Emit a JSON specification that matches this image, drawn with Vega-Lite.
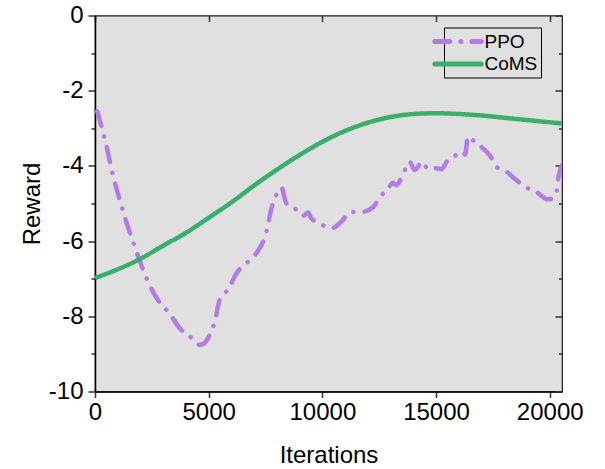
{
  "$schema": "https://vega.github.io/schema/vega-lite/v6.json",
  "width": 467,
  "height": 376,
  "autosize": {"type": "none"},
  "padding": {"left": 95, "top": 15.5, "right": 43, "bottom": 77.5},
  "background": "white",
  "config": {
    "view": {"fill": "#e0e0e0", "stroke": "#1a1a1a", "strokeWidth": 1.2},
    "font": "Liberation Sans",
    "axis": {
      "labelFont": "Liberation Sans",
      "titleFont": "Liberation Sans",
      "labelFontSize": 24,
      "titleFontSize": 24,
      "titleFontWeight": "normal",
      "labelColor": "black",
      "titleColor": "black",
      "domainColor": "black",
      "domainWidth": 1.5,
      "tickColor": "#333",
      "tickWidth": 1.5,
      "labelFlush": false,
      "grid": false
    },
    "legend": {
      "labelFont": "Liberation Sans",
      "labelFontSize": 19,
      "labelColor": "black"
    }
  },
  "data": {
    "values": [
      {"iter": 100, "reward": -2.55, "series": "PPO"},
      {"iter": 430, "reward": -3.29, "series": "PPO"},
      {"iter": 790, "reward": -4.24, "series": "PPO"},
      {"iter": 1230, "reward": -5.2, "series": "PPO"},
      {"iter": 1750, "reward": -6.15, "series": "PPO"},
      {"iter": 2330, "reward": -7.08, "series": "PPO"},
      {"iter": 2850, "reward": -7.64, "series": "PPO"},
      {"iter": 3250, "reward": -7.9, "series": "PPO"},
      {"iter": 3730, "reward": -8.32, "series": "PPO"},
      {"iter": 4240, "reward": -8.57, "series": "PPO"},
      {"iter": 4600, "reward": -8.76, "series": "PPO"},
      {"iter": 4800, "reward": -8.72, "series": "PPO"},
      {"iter": 5040, "reward": -8.5, "series": "PPO"},
      {"iter": 5260, "reward": -8.16, "series": "PPO"},
      {"iter": 5480, "reward": -7.57, "series": "PPO"},
      {"iter": 5890, "reward": -7.26, "series": "PPO"},
      {"iter": 6220, "reward": -6.86, "series": "PPO"},
      {"iter": 6730, "reward": -6.55, "series": "PPO"},
      {"iter": 7100, "reward": -6.32, "series": "PPO"},
      {"iter": 7540, "reward": -5.75, "series": "PPO"},
      {"iter": 7760, "reward": -5.13, "series": "PPO"},
      {"iter": 7950, "reward": -4.8, "series": "PPO"},
      {"iter": 8200, "reward": -4.58, "series": "PPO"},
      {"iter": 8420, "reward": -5.0, "series": "PPO"},
      {"iter": 8780, "reward": -5.13, "series": "PPO"},
      {"iter": 9150, "reward": -5.33, "series": "PPO"},
      {"iter": 9370, "reward": -5.24, "series": "PPO"},
      {"iter": 9510, "reward": -5.39, "series": "PPO"},
      {"iter": 9880, "reward": -5.53, "series": "PPO"},
      {"iter": 10400, "reward": -5.66, "series": "PPO"},
      {"iter": 10840, "reward": -5.48, "series": "PPO"},
      {"iter": 11230, "reward": -5.23, "series": "PPO"},
      {"iter": 11790, "reward": -5.22, "series": "PPO"},
      {"iter": 12230, "reward": -5.1, "series": "PPO"},
      {"iter": 12520, "reward": -4.84, "series": "PPO"},
      {"iter": 12890, "reward": -4.6, "series": "PPO"},
      {"iter": 13110, "reward": -4.45, "series": "PPO"},
      {"iter": 13250, "reward": -4.51, "series": "PPO"},
      {"iter": 13550, "reward": -4.22, "series": "PPO"},
      {"iter": 13840, "reward": -3.89, "series": "PPO"},
      {"iter": 14060, "reward": -4.11, "series": "PPO"},
      {"iter": 14400, "reward": -3.89, "series": "PPO"},
      {"iter": 14640, "reward": -4.08, "series": "PPO"},
      {"iter": 15010, "reward": -4.06, "series": "PPO"},
      {"iter": 15230, "reward": -4.09, "series": "PPO"},
      {"iter": 15520, "reward": -3.84, "series": "PPO"},
      {"iter": 15890, "reward": -3.71, "series": "PPO"},
      {"iter": 16180, "reward": -3.62, "series": "PPO"},
      {"iter": 16280, "reward": -3.7, "series": "PPO"},
      {"iter": 16400, "reward": -3.22, "series": "PPO"},
      {"iter": 16700, "reward": -3.36, "series": "PPO"},
      {"iter": 17060, "reward": -3.53, "series": "PPO"},
      {"iter": 17390, "reward": -3.74, "series": "PPO"},
      {"iter": 17650, "reward": -4.02, "series": "PPO"},
      {"iter": 18090, "reward": -4.15, "series": "PPO"},
      {"iter": 18500, "reward": -4.36, "series": "PPO"},
      {"iter": 18900, "reward": -4.55, "series": "PPO"},
      {"iter": 19410, "reward": -4.69, "series": "PPO"},
      {"iter": 19920, "reward": -4.89, "series": "PPO"},
      {"iter": 20150, "reward": -4.85, "series": "PPO"},
      {"iter": 20290, "reward": -4.73, "series": "PPO"},
      {"iter": 20360, "reward": -4.38, "series": "PPO"},
      {"iter": 20470, "reward": -4.09, "series": "PPO"},
      {"iter": 20540, "reward": -3.98, "series": "PPO"},
      {"iter": 0, "reward": -6.98, "series": "CoMS"},
      {"iter": 1000, "reward": -6.75, "series": "CoMS"},
      {"iter": 2000, "reward": -6.47, "series": "CoMS"},
      {"iter": 3000, "reward": -6.12, "series": "CoMS"},
      {"iter": 4000, "reward": -5.78, "series": "CoMS"},
      {"iter": 5000, "reward": -5.38, "series": "CoMS"},
      {"iter": 6000, "reward": -4.97, "series": "CoMS"},
      {"iter": 7000, "reward": -4.52, "series": "CoMS"},
      {"iter": 8000, "reward": -4.1, "series": "CoMS"},
      {"iter": 9000, "reward": -3.71, "series": "CoMS"},
      {"iter": 10000, "reward": -3.36, "series": "CoMS"},
      {"iter": 11000, "reward": -3.07, "series": "CoMS"},
      {"iter": 12000, "reward": -2.85, "series": "CoMS"},
      {"iter": 13000, "reward": -2.7, "series": "CoMS"},
      {"iter": 14000, "reward": -2.62, "series": "CoMS"},
      {"iter": 15000, "reward": -2.6, "series": "CoMS"},
      {"iter": 16000, "reward": -2.62, "series": "CoMS"},
      {"iter": 17000, "reward": -2.66, "series": "CoMS"},
      {"iter": 18000, "reward": -2.72, "series": "CoMS"},
      {"iter": 19000, "reward": -2.78, "series": "CoMS"},
      {"iter": 20000, "reward": -2.84, "series": "CoMS"},
      {"iter": 20540, "reward": -2.87, "series": "CoMS"}
    ]
  },
  "encoding": {
    "x": {"field": "iter", "type": "quantitative", "scale": {"domain": [0, 20540], "nice": false, "zero": false}},
    "y": {"field": "reward", "type": "quantitative", "scale": {"domain": [-10, 0], "nice": false}},
    "color": {
      "field": "series", "type": "nominal",
      "scale": {"domain": ["PPO", "CoMS"], "range": ["#b47be6", "#3aaf6c"]},
      "legend": {
        "title": null,
        "orient": "none",
        "legendX": 349,
        "legendY": 12,
        "symbolType": "M-2.9,0H2.9",
        "symbolSize": 256,
        "symbolStrokeWidth": 5,
        "rowPadding": 1.5,
        "padding": 3.5,
        "labelOffset": 16,
        "strokeColor": "black",
        "fillColor": "#e0e0e0",
        "cornerRadius": 0,
        "encode": {"symbols": {"update": {"strokeCap": {"value": "round"}}}}
      }
    },
    "strokeDash": {
      "field": "series", "type": "nominal",
      "scale": {"domain": ["PPO", "CoMS"], "range": [[15, 11, 0.1, 11], [1, 0]]},
      "legend": null
    }
  },
  "layer": [
    {
      "transform": [{"filter": "datum.series === 'PPO'"}],
      "mark": {"type": "line", "strokeWidth": 4.5, "strokeCap": "round", "interpolate": "monotone", "clip": true},
      "encoding": {
        "x": {"field": "iter", "type": "quantitative", "axis": {
          "orient": "bottom", "values": [0, 5000, 10000, 15000, 20000], "format": "d",
          "tickSize": 6, "labelPadding": 3, "title": "Iterations", "titlePadding": 19
        }},
        "y": {"field": "reward", "type": "quantitative", "axis": {
          "orient": "left", "values": [-10, -9, -8, -7, -6, -5, -4, -3, -2, -1, 0],
          "labelExpr": "datum.value % 2 === 0 ? '' + datum.value : ''",
          "tickSize": {"condition": {"test": "datum.value % 2 !== 0", "value": 4}, "value": 7},
          "labelPadding": 5, "title": "Reward", "titlePadding": 4
        }}
      }
    },
    {
      "transform": [{"filter": "datum.series === 'CoMS'"}],
      "mark": {"type": "line", "strokeWidth": 4.5, "interpolate": "monotone", "clip": true},
      "encoding": {
        "x": {"field": "iter", "type": "quantitative", "axis": {
          "orient": "top", "values": [0, 5000, 10000, 15000, 20000], "labels": false,
          "domain": false, "tickSize": -6, "title": null
        }},
        "y": {"field": "reward", "type": "quantitative", "axis": {
          "orient": "right", "values": [-10, -9, -8, -7, -6, -5, -4, -3, -2, -1, 0],
          "labels": false, "domain": false,
          "tickSize": {"condition": {"test": "datum.value % 2 !== 0", "value": -3.5}, "value": -7},
          "title": null
        }}
      }
    }
  ],
  "resolve": {"axis": {"x": "independent", "y": "independent"}}
}
